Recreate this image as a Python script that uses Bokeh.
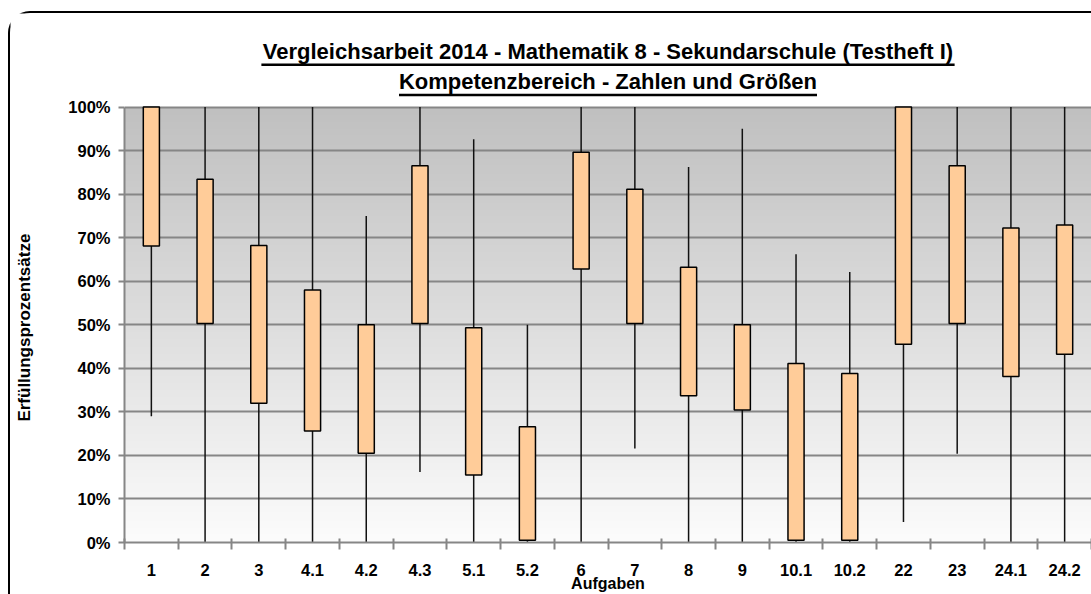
import numpy as np
from bokeh.plotting import figure
from bokeh.layouts import row
from bokeh.models import Range1d, FixedTicker
from bokeh.core.properties import value
from bokeh.embed import file_html
from bokeh.resources import INLINE

# ---------------- data ----------------
categories = ["1", "2", "3", "4.1", "4.2", "4.3", "5.1", "5.2", "6", "7",
              "8", "9", "10.1", "10.2", "22", "23", "24.1", "24.2"]
minimum = [29.0, 0, 0, 0, 0, 16.2, 0, 0, 0, 21.6, 0, 0, 0, 0, 4.7, 20.4, 0, 0]
q_low = [68.1, 50.3, 32.0, 25.6, 20.5, 50.3, 15.5, 0.5, 62.8, 50.3,
         33.7, 30.4, 0.5, 0.5, 45.5, 50.3, 38.1, 43.2]
q_high = [100, 83.4, 68.2, 58.0, 50.0, 86.5, 49.3, 26.6, 89.6, 81.1,
          63.2, 50.0, 41.1, 38.8, 100, 86.5, 72.2, 72.9]
maximum = [100, 100, 100, 100, 75.0, 100, 92.6, 50.0, 100, 100,
           86.2, 95.0, 66.2, 62.1, 100, 100, 100, 100]
y_ticks = [0, 10, 20, 30, 40, 50, 60, 70, 80, 90, 100]
y_tick_labels = ["0%", "10%", "20%", "30%", "40%", "50%", "60%", "70%", "80%", "90%", "100%"]
title_lines = ["Vergleichsarbeit 2014 - Mathematik 8 - Sekundarschule (Testheft I)",
               "Kompetenzbereich - Zahlen und Größen"]
x_title = "Aufgaben"
y_title = "Erfüllungsprozentsätze"

# ---------------- layout constants (page pixels) ----------------
FONT = "Liberation Sans"
MARGIN_TOP, MARGIN_LEFT, BORDER = 11, 8, 2
TOTAL_W, H = 1091 - MARGIN_LEFT - BORDER, 594 - MARGIN_TOP - BORDER
LEFT_W = 32                               # strip holding the y axis title
W = TOTAL_W - LEFT_W                      # main figure width
CANVAS_X0 = MARGIN_LEFT + BORDER + LEFT_W # page x of main canvas origin
CANVAS_Y0 = MARGIN_TOP + BORDER           # page y of canvas origin
FRAME_LEFT_PAGE = 124
ZERO_PAGE = 543                           # page y of 0 %
HUNDRED_PAGE = 106.7                      # page y of 100 %
PX = (ZERO_PAGE - HUNDRED_PAGE) / 100.0   # pixels per percent
n = len(categories)
PX_X = (CANVAS_X0 + W - FRAME_LEFT_PAGE) / n
y_top = (ZERO_PAGE - CANVAS_Y0) / PX


def page_to_y(py):
    return (ZERO_PAGE - py) / PX


GRID = "#868686"

p = figure(width=W, height=H, x_range=Range1d(0, n), y_range=Range1d(0, y_top),
           output_backend="svg", toolbar_location=None,
           min_border_left=FRAME_LEFT_PAGE - CANVAS_X0, min_border_right=0, min_border_top=0,
           min_border_bottom=CANVAS_Y0 + H - ZERO_PAGE)
p.title.visible = False
p.outline_line_color = None
p.background_fill_color = "white"
p.border_fill_color = "white"

# gradient plot area background
rows = 256
grad = np.linspace(252, 192, rows).astype(np.uint8)
img = np.zeros((rows, 1), dtype=np.uint32)
view = img.view(dtype=np.uint8).reshape((rows, 1, 4))
view[:, 0, 0] = grad
view[:, 0, 1] = grad
view[:, 0, 2] = grad
view[:, 0, 3] = 255
p.image_rgba(image=[img], x=0, y=0, dw=n, dh=100, level="image")

# grid
p.xgrid.visible = False
p.ygrid.ticker = FixedTicker(ticks=y_ticks)
p.ygrid.grid_line_color = GRID
p.ygrid.grid_line_width = 2

TICK_FONT = "16.5px"

# y axis
p.yaxis.ticker = FixedTicker(ticks=y_ticks)
p.yaxis.major_label_overrides = {t: l for t, l in zip(y_ticks, y_tick_labels)}
p.yaxis.bounds = (0, 100)
p.yaxis.axis_line_color = GRID
p.yaxis.axis_line_width = 2
p.yaxis.major_tick_line_color = GRID
p.yaxis.major_tick_line_width = 2
p.yaxis.major_tick_out = 6
p.yaxis.major_tick_in = 0
p.yaxis.minor_tick_line_color = None
p.yaxis.major_label_standoff = 8
p.yaxis.major_label_text_font = FONT
p.yaxis.major_label_text_font_style = "bold"
p.yaxis.major_label_text_font_size = TICK_FONT
p.yaxis.major_label_text_color = "black"

# x axis: labels at centres, ticks at boundaries
centers = [i + 0.5 for i in range(n)]
bounds = list(range(n + 1))
p.xaxis.ticker = FixedTicker(ticks=centers, minor_ticks=bounds)
p.xaxis.major_label_overrides = {c: cat for c, cat in zip(centers, categories)}
p.xaxis.axis_line_color = GRID
p.xaxis.axis_line_width = 2
p.xaxis.major_tick_line_color = None
p.xaxis.major_tick_in = 0
p.xaxis.major_tick_out = 0
p.xaxis.minor_tick_line_color = GRID
p.xaxis.minor_tick_line_width = 2
p.xaxis.minor_tick_in = 4
p.xaxis.minor_tick_out = 7
p.xaxis.major_label_standoff = 14
p.xaxis.major_label_text_font = FONT
p.xaxis.major_label_text_font_style = "bold"
p.xaxis.major_label_text_font_size = TICK_FONT
p.xaxis.major_label_text_color = "black"
p.xaxis.axis_label = x_title
p.xaxis.axis_label_standoff = -4
p.xaxis.axis_label_text_font = FONT
p.xaxis.axis_label_text_font_style = "bold"
p.xaxis.axis_label_text_font_size = "16px"
p.xaxis.axis_label_text_color = "black"

# whiskers and boxes
p.segment(x0=centers, y0=minimum, x1=centers, y1=maximum, line_color="#111111", line_width=1.5)
p.vbar(x=centers, width=0.3, bottom=q_low, top=q_high, fill_color="#FFCC99",
       line_color="black", line_width=1.5)

# titles (underlined)
title_size = 22
title_em = [31.51, 19.0]          # text width in em (Arial bold metrics)
title_base_px = [59.5, 89.5]      # wanted page y of baselines
underline_px = [64.3, 94.7]
baseline_fix = 0.38 * title_size  # renderer draws alphabetic text this much lower
cx = n / 2
for line, em, by, uy in zip(title_lines, title_em, title_base_px, underline_px):
    p.text(x=[cx], y=[page_to_y(by - baseline_fix)], text=[line], text_font=value(FONT),
           text_font_style="bold", text_font_size=f"{title_size}px", text_align="center",
           text_baseline="alphabetic", text_color="black")
    half = em * title_size / 2 / PX_X
    p.segment(x0=[cx - half], y0=[page_to_y(uy)], x1=[cx + half], y1=[page_to_y(uy)],
              line_color="black", line_width=2.5, line_cap="butt")

# narrow strip on the left carrying the vertical y axis title
side = figure(width=LEFT_W, height=H, x_range=Range1d(0, LEFT_W), y_range=Range1d(0, H),
              output_backend="svg", toolbar_location=None, min_border=0)
side.title.visible = False
side.axis.visible = False
side.grid.visible = False
side.outline_line_color = None
side.background_fill_color = "white"
side.border_fill_color = "white"
YT_X_PAGE, YT_Y_PAGE = 24, 358      # anchor (renderer offsets compensated)
side.text(x=[YT_X_PAGE - (MARGIN_LEFT + BORDER)], y=[H - (YT_Y_PAGE - CANVAS_Y0)], text=[y_title],
          angle=np.pi / 2, text_align="center", text_baseline="middle",
          text_font=value(FONT), text_font_style="bold", text_font_size="17px",
          text_color="black")

root = row(side, p)
root.spacing = 0
root.margin = (MARGIN_TOP, 0, 0, MARGIN_LEFT)
root.styles = {"border-top": f"{BORDER}px solid #000", "border-left": f"{BORDER}px solid #000",
               "border-top-left-radius": "22px", "box-sizing": "content-box"}

open("out.html", "w").write(file_html(root, INLINE))
